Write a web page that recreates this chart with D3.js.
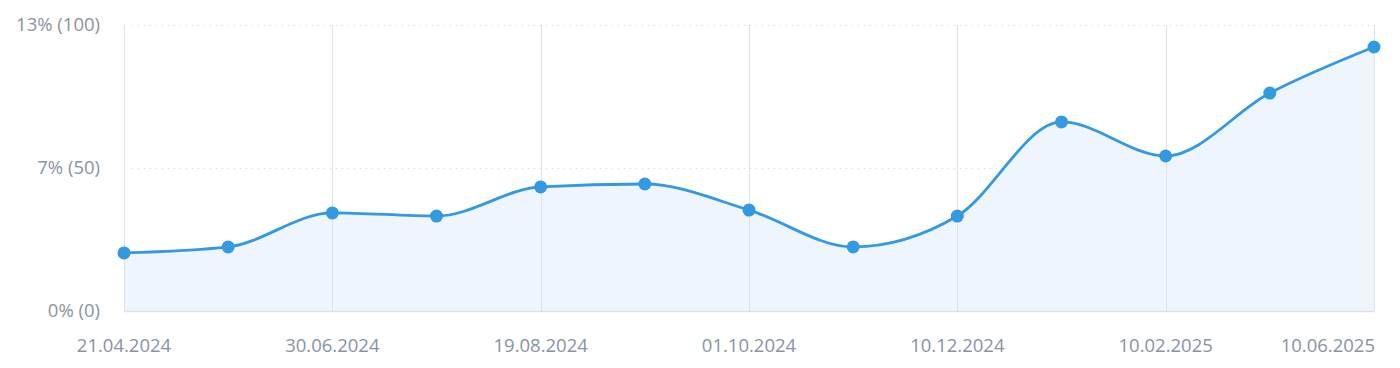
<!DOCTYPE html>
<html>
<head>
<meta charset="utf-8">
<script src="https://cdn.jsdelivr.net/npm/d3@7"></script>
<style>
  html, body { margin: 0; padding: 0; background: #fff; }
  svg { display: block; font-family: "Open Sans", "Noto Sans", sans-serif; }
</style>
</head>
<body>
<svg id="chart" width="1400" height="368"></svg>
<script>
// ---- data ----
const categories = [0, 1, 2, 3, 4, 5, 6, 7, 8, 9, 10, 11, 12];
const values = [20.3, 22.4, 34.3, 33.2, 43.4, 44.4, 35.3, 22.4, 33.2, 66.1, 54.2, 76.2, 92.3];
const xTickIndex = [0, 2, 4, 6, 8, 10, 12];
const xTickLabels = ["21.04.2024", "30.06.2024", "19.08.2024", "01.10.2024", "10.12.2024", "10.02.2025", "10.06.2025"];
const yTickValues = [0, 50, 100];
const yTickLabels = ["0% (0)", "7% (50)", "13% (100)"];

(function () {
  const svg = d3.select("#chart");
  const pL = 124, pR = 1374, pT = 25, pB = 311;

  const x = d3.scalePoint().domain(categories).range([pL, pR]);
  const y = d3.scaleLinear().domain([0, 100]).range([pB, pT]);

  const textColor = "#8993a4";
  const gridColor = "#dde2e9";
  const blue = "#3399e1";

  // horizontal dotted grid
  svg.append("g").selectAll("line")
    .data(yTickValues.filter(v => v > 0))
    .join("line")
    .attr("x1", pL + 8).attr("x2", pR - 2)
    .attr("y1", d => y(d) + 0.5).attr("y2", d => y(d) + 0.5)
    .attr("stroke", "#cfd5dd").attr("stroke-width", 1)
    .attr("stroke-dasharray", "1,5");

  // area
  const area = d3.area()
    .x((d, i) => x(categories[i]))
    .y0(y(0))
    .y1(d => y(d))
    .curve(d3.curveMonotoneX);
  svg.append("path")
    .datum(values)
    .attr("d", area)
    .attr("fill", "#eef5fc");

  // vertical grid
  svg.append("g").selectAll("line")
    .data(xTickIndex)
    .join("line")
    .attr("x1", d => Math.round(x(d)) + 0.5).attr("x2", d => Math.round(x(d)) + 0.5)
    .attr("y1", pT).attr("y2", pB)
    .attr("stroke", gridColor).attr("stroke-width", 1);

  // baseline
  svg.append("line")
    .attr("x1", pL).attr("x2", pR)
    .attr("y1", pB + 0.5).attr("y2", pB + 0.5)
    .attr("stroke", gridColor).attr("stroke-width", 1.5);

  // line
  const line = d3.line()
    .x((d, i) => x(categories[i]))
    .y(d => y(d))
    .curve(d3.curveMonotoneX);
  svg.append("path")
    .datum(values)
    .attr("d", line)
    .attr("fill", "none")
    .attr("stroke", blue)
    .attr("stroke-width", 2.8);

  // dots
  svg.append("g").selectAll("circle")
    .data(values)
    .join("circle")
    .attr("cx", (d, i) => x(categories[i]))
    .attr("cy", d => y(d))
    .attr("r", 6.5)
    .attr("fill", blue);

  // y labels
  svg.append("g").selectAll("text")
    .data(yTickValues)
    .join("text")
    .attr("x", 100)
    .attr("y", d => y(d))
    .attr("dy", "0.35em")
    .attr("text-anchor", "end")
    .attr("fill", textColor)
    .attr("font-size", 18.5)
    .text((d, i) => yTickLabels[i]);

  // x labels
  svg.append("g").selectAll("text")
    .data(xTickIndex)
    .join("text")
    .attr("x", (d, i) => i === xTickIndex.length - 1 ? pR + 1 : x(d))
    .attr("y", 346)
    .attr("dy", "0.35em")
    .attr("text-anchor", (d, i) => i === xTickIndex.length - 1 ? "end" : "middle")
    .attr("fill", textColor)
    .attr("font-size", 18.5)
    .text((d, i) => xTickLabels[i]);
})();
</script>
</body>
</html>
